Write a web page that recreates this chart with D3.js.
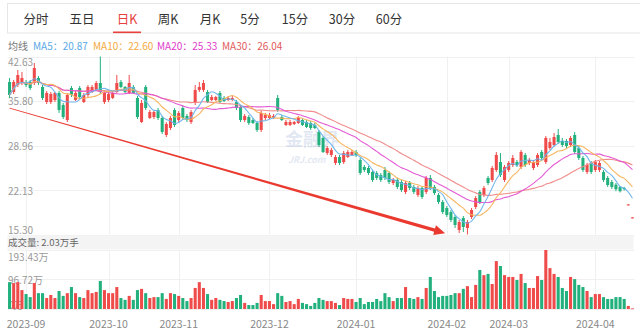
<!DOCTYPE html>
<html><head><meta charset="utf-8">
<script src="https://cdn.jsdelivr.net/npm/d3@7"></script>
<style>html,body{margin:0;padding:0;background:#fff;} svg{display:block;font-family:"Noto Sans CJK SC","Noto Sans",sans-serif;}</style>
</head><body><svg id="c" width="640" height="333"></svg>
<script>
// ---------- data ----------
const tabs = ["分时","五日","日K","周K","月K","5分","15分","30分","60分"];
const activeTab = "日K";
const maPeriods = [5,10,20,30];
const maLegendValues = ["20.87","22.60","25.33","26.04"];
const maLegendTitle = "均线";
const volumeLabel = "成交量: 2.03万手";
const priceTicks = [42.63,35.80,28.96,22.13,15.30];
const volTicks = [193.43,96.72,0];
const volTickLabels = ["193.43万","96.72万","0万"];
const monthDays = [
 ["2023-08",[28,29,30,31]],
 ["2023-09",[1,4,5,6,7,8,11,12,13,14,15,18,19,20,21,22,25,26,27,28]],
 ["2023-10",[9,10,11,12,13,16,17,18,19,20,23,24,25,26,27,30,31]],
 ["2023-11",[1,2,3,6,7,8,9,10,13,14,15,16,17,20,21,22,23,24,27,28,29,30]],
 ["2023-12",[1,4,5,6,7,8,11,12,13,14,15,18,19,20,21,22,25,26,27,28,29]],
 ["2024-01",[2,3,4,5,8,9,10,11,12,15,16,17,18,19,22,23,24,25,26,29,30,31]],
 ["2024-02",[1,2,5,6,7,8,19,20,21,22,23,26,27,28,29]],
 ["2024-03",[1,4,5,6,7,8,11,12,13,14,15,18,19,20,21,22,25,26,27,28,29]],
 ["2024-04",[1,2,3,8,9,10,11,12,15,16]]
];
const monthLabels = ["2023-09","2023-10","2023-11","2023-12","2024-01","2024-02","2024-03","2024-04"];
const open = [
 38.72,37.18,38.25,38.56,38.72,38.72,38.56,39.33,37.95,35.64,
 35.64,35.95,37.03,35.18,32.88,37.79,35.95,37.79,35.64,36.72,
 37.18,37.49,38.56,35.64,35.95,36.26,37.18,38.72,37.95,37.03,
 37.95,36.26,32.57,37.95,33.19,33.34,34.42,33.19,30.58,31.65,
 34.42,32.88,34.72,33.50,32.57,35.49,37.49,37.49,37.18,35.95,
 35.95,37.03,36.26,35.95,35.95,35.64,34.88,32.88,33.34,32.88,
 32.42,31.35,33.19,33.19,33.19,36.26,33.34,32.11,32.11,32.27,
 32.42,32.88,32.57,32.42,32.11,31.04,30.12,27.81,27.51,26.28,
 27.20,26.43,27.20,27.51,27.97,26.74,25.67,25.51,24.90,24.74,
 24.44,25.20,24.74,23.21,23.67,23.36,21.83,23.21,22.60,21.37,
 22.44,21.83,23.98,22.60,21.37,20.29,19.37,18.75,17.99,15.99,
 17.83,16.30,17.99,19.52,21.83,21.37,23.98,23.67,25.20,26.43,
 23.67,25.20,25.97,26.43,25.67,27.51,26.28,25.51,25.97,27.97,
 26.43,28.58,29.04,30.58,29.66,29.66,29.04,30.58,28.58,27.05,
 24.90,26.28,25.20,25.20,24.90,23.98,23.36,22.95,22.60,22.45,
 19.92,17.93];
const close = [
 36.72,38.72,39.79,39.33,38.25,37.79,40.86,38.56,36.26,37.03,
 36.87,37.03,34.42,33.34,36.72,36.72,37.03,36.41,36.72,37.95,
 37.95,38.56,37.18,37.03,36.87,37.03,38.56,37.95,37.18,38.56,
 37.03,33.34,35.49,34.72,34.11,34.11,33.19,31.04,32.27,33.19,
 32.11,33.96,33.19,32.88,34.11,37.49,37.95,38.56,35.64,36.41,
 36.41,35.64,35.80,36.26,36.26,34.72,32.88,33.50,32.42,32.42,
 31.35,33.96,33.65,33.65,33.50,34.42,32.88,32.57,32.57,32.57,
 33.19,32.11,31.81,31.65,31.65,29.04,27.97,28.58,28.27,27.20,
 26.28,27.81,27.97,27.97,27.51,24.74,25.20,24.74,23.67,23.98,
 23.67,23.98,23.36,23.67,22.60,22.13,23.21,22.44,21.83,22.44,
 21.06,23.98,22.44,21.67,20.29,18.75,18.29,17.53,16.76,17.22,
 16.45,17.22,19.06,20.90,20.29,22.44,23.21,25.51,27.51,24.44,
 25.67,26.28,27.05,25.97,27.97,25.97,26.74,26.43,27.51,27.05,
 30.12,29.50,30.27,29.50,29.04,28.89,30.12,27.97,27.05,25.20,
 25.97,24.90,26.43,26.28,23.67,22.90,22.60,22.25,21.95,22.25,
 19.92,17.93];
const high = [
 39.33,39.02,40.56,40.25,39.02,39.02,41.63,39.64,38.25,37.33,
 37.18,37.18,37.33,35.49,37.03,38.10,37.33,38.10,37.03,38.25,
 38.25,38.87,42.63,37.33,37.18,37.33,39.79,39.02,38.10,39.79,
 38.25,36.56,35.95,38.25,34.42,34.42,34.72,33.50,32.57,33.50,
 34.72,34.26,35.03,33.80,34.42,38.25,38.72,39.02,37.49,36.72,
 36.56,37.33,36.56,36.56,36.56,35.95,35.18,33.80,33.65,33.19,
 32.73,34.26,33.96,33.96,33.80,36.72,33.65,32.88,32.88,32.73,
 33.50,33.19,32.88,32.73,32.42,31.35,30.42,28.89,28.58,27.51,
 27.51,28.12,28.27,28.27,28.27,27.05,25.97,25.82,25.20,25.05,
 24.74,25.67,25.05,23.98,23.98,23.67,23.52,23.52,22.90,22.75,
 22.75,24.28,24.44,22.90,21.67,20.60,19.67,19.06,18.29,17.53,
 18.14,17.53,19.37,21.21,22.13,22.75,24.28,25.82,27.97,27.81,
 25.97,26.58,27.51,26.74,28.27,27.81,27.05,26.74,27.81,28.27,
 30.42,30.12,30.88,31.50,30.12,29.97,30.42,31.04,28.89,27.35,
 26.28,26.58,26.74,26.58,25.20,24.28,23.67,23.21,22.75,22.60,
 19.92,17.93];
const low = [
 36.26,36.87,37.95,38.25,37.95,37.49,38.25,38.25,35.95,35.34,
 35.34,35.64,33.96,33.03,32.57,36.41,35.80,36.10,35.49,36.41,
 37.03,37.33,36.87,35.34,35.64,36.10,37.03,37.79,37.03,36.87,
 36.87,33.03,32.42,34.42,33.03,33.03,32.88,30.73,30.27,31.35,
 31.81,32.57,32.88,32.57,32.27,35.18,37.18,37.18,35.49,35.80,
 35.80,35.49,35.64,35.80,35.80,34.42,32.57,32.57,32.11,32.27,
 31.04,31.04,32.88,33.03,33.03,34.11,32.73,31.96,31.96,32.11,
 32.27,31.96,31.65,31.35,31.50,28.73,27.81,27.51,27.20,25.97,
 25.97,26.12,27.05,27.35,27.20,24.44,24.90,24.44,23.36,23.67,
 23.36,23.67,23.06,22.90,22.29,21.83,21.52,22.13,21.52,21.06,
 20.75,21.52,22.13,21.37,19.98,18.45,17.99,17.22,16.30,15.53,
 15.69,15.30,17.68,19.21,19.98,21.06,22.90,23.36,24.90,24.13,
 23.36,24.90,25.67,25.67,25.36,25.67,25.97,25.20,25.67,26.74,
 26.12,28.27,28.73,29.20,28.73,28.58,28.73,27.66,26.74,24.90,
 24.59,24.59,24.90,24.90,23.36,22.60,22.29,21.95,21.75,22.05,
 19.92,17.93];
const volume = [
 88,85,88,62,49,39,85,52,52,36,
 46,36,59,43,52,72,52,39,36,62,
 52,56,92,62,52,52,72,36,30,43,
 30,62,66,52,36,39,39,52,33,52,
 49,43,36,26,36,69,88,69,49,30,
 36,30,26,23,26,36,46,20,13,13,
 20,46,26,26,16,52,43,23,26,16,
 33,20,16,10,20,36,30,26,26,20,
 13,36,33,33,23,36,16,23,23,33,
 26,52,39,26,36,36,72,36,33,39,
 33,69,105,59,39,43,43,46,52,52,
 66,75,39,79,128,111,115,82,157,141,
 111,105,105,95,115,85,69,69,108,95,
 193.43,134,115,105,69,59,105,98,79,72,
 59,39,49,49,39,33,33,39,39,33,
 10,2.03];
// annotation arrow in data space (candle index, price)
const arrowFrom = {idx:0, price:34.72};
const arrowTo = {idx:105.6, price:15.5};

// ---------- build ----------
const dates = [];
monthDays.forEach(([m,days]) => days.forEach(d => dates.push(m + "-" + String(d).padStart(2,"0"))));
const candles = dates.map((d,i)=>({date:d, o:open[i], c:close[i], h:high[i], l:low[i], v:volume[i], i}));

const RED = "#ef4b4b", GREEN = "#22b07d";
const maColors = ["#6cb4ec","#f7b25a","#e353d2","#f08686"];
const maTextColors = ["#5aa8e6","#f4a940","#e03ccc","#e25a5a"];

const svg = d3.select("#c");
const L = 7.5, R = 634.5;
const pTop = 56.5, pBot = 234.5, vTop = 250, vBot = 309;

const x = d3.scaleBand().domain(dates).range([L, R]).paddingInner(0.26).paddingOuter(0.13);
const bw = x.bandwidth();
const cx = d => x(d) + bw/2;
const cxIdx = f => x(dates[0]) + bw/2 + f * x.step();
const y = d3.scaleLinear().domain([15.30, 42.63]).range([pBot, pTop]);
const yv = d3.scaleLinear().domain([0, 193.43]).range([vBot, vTop]);

// Tabs
const tabCenters = [36, 82, 127, 168, 210, 250, 295, 342, 389];
svg.append("rect").attr("x",7.5).attr("y",3.5).attr("width",660).attr("height",29.5)
  .attr("fill","#fff").attr("stroke","#e6e6e6");
svg.selectAll("text.tab").data(tabs).join("text").attr("class","tab")
  .attr("x",(d,i)=>tabCenters[i]).attr("y",18.5).attr("text-anchor","middle")
  .attr("dominant-baseline","central").attr("font-size",12.5)
  .attr("fill",d=>d===activeTab?"#e8403c":"#333").text(d=>d);
const ai = tabs.indexOf(activeTab);
svg.append("rect").attr("x",tabCenters[ai]-14).attr("y",31.5).attr("width",28).attr("height",1.6).attr("fill","#e8403c");

// MA legend
const lg = svg.append("g").attr("font-size",10).attr("dominant-baseline","central");
lg.append("text").attr("x",8).attr("y",45).attr("fill","#777").text(maLegendTitle);
const legX = [33, 93, 157, 222];
maPeriods.forEach((p,k)=>{
  lg.append("text").attr("x",legX[k]).attr("y",45).attr("fill",maTextColors[k])
    .text("MA"+p+"："+maLegendValues[k]);
});

// grid
const grid = svg.append("g").attr("stroke","#f0f0f0").attr("stroke-width",1);
priceTicks.forEach(t=>grid.append("line").attr("x1",L).attr("x2",R).attr("y1",Math.round(y(t))+0.5).attr("y2",Math.round(y(t))+0.5));
volTicks.forEach(t=>grid.append("line").attr("x1",L).attr("x2",R).attr("y1",Math.round(yv(t))+0.5).attr("y2",Math.round(yv(t))+0.5));
const monthFirst = monthLabels.map(m => dates.find(d => d.startsWith(m)));
monthFirst.forEach(d=>{
  const xx = Math.round(cx(d))+0.5;
  grid.append("line").attr("x1",xx).attr("x2",xx).attr("y1",pTop).attr("y2",pBot);
  grid.append("line").attr("x1",xx).attr("x2",xx).attr("y1",vTop).attr("y2",vBot);
});

// price axis labels (under candles)
const al = svg.append("g").attr("font-size",10).attr("fill","#999").attr("dominant-baseline","central");
priceTicks.forEach((t,k)=>{
  let yy = y(t);
  if (k===0) yy += 5; else if (k===priceTicks.length-1) yy -= 5.5;
  al.append("text").attr("x",8).attr("y",yy).text(d3.format(".2f")(t));
});

// watermark
const wm = svg.append("g").attr("opacity",0.2).attr("fill","#6f8fc4");
wm.append("text").attr("x",285).attr("y",146).attr("font-size",18).attr("font-weight","bold").text("金融界");
wm.append("text").attr("x",288).attr("y",163).attr("font-size",9).attr("font-style","italic").attr("font-weight","bold").text("JRJ.com");

// volume band
svg.append("rect").attr("x",L).attr("y",235.5).attr("width",R-L-1).attr("height",14).attr("fill","#f4f4f4");
svg.append("text").attr("x",8).attr("y",242).attr("font-size",9.5).attr("fill","#666")
  .attr("dominant-baseline","central").text(volumeLabel);
volTicks.forEach((t,k)=>{
  let yy = yv(t);
  if (k===0) yy += 6.5; else if (k===volTicks.length-1) yy -= 5;
  al.append("text").attr("x",8).attr("y",yy).text(volTickLabels[k]);
});

// candles
const col = d => d.c >= d.o ? RED : GREEN;
const cg = svg.append("g");
cg.selectAll("line.wick").data(candles).join("line")
  .attr("x1",d=>cx(d.date)).attr("x2",d=>cx(d.date))
  .attr("y1",d=>y(d.h)).attr("y2",d=>Math.max(y(d.l), y(d.h)+1))
  .attr("stroke",col).attr("stroke-width",1);
cg.selectAll("rect.body").data(candles).join("rect")
  .attr("x",d=>x(d.date)).attr("width",bw)
  .attr("y",d=>y(Math.max(d.o,d.c)))
  .attr("height",d=>Math.max(1, Math.abs(y(d.o)-y(d.c))))
  .attr("fill",col);

// MA lines
const maData = maPeriods.map(n => close.map((c,i)=> d3.mean(close.slice(Math.max(0,i-n+1), i+1))));
const line = d3.line().x((v,i)=>cx(dates[i])).y(v=>y(v)).curve(d3.curveMonotoneX);
maData.slice().reverse().forEach((arr,kk)=>{
  const k = maData.length-1-kk;
  svg.append("path").attr("d",line(arr)).attr("fill","none").attr("stroke",maColors[k]).attr("stroke-width",1.1).attr("opacity",0.95);
});

// volume bars
svg.append("g").selectAll("rect").data(candles).join("rect")
  .attr("x",d=>x(d.date)).attr("width",bw)
  .attr("y",d=>yv(d.v)).attr("height",d=>Math.max(0.8, yv(0)-yv(d.v)))
  .attr("fill",col);

// x labels
svg.append("g").attr("font-size",10.5).attr("fill","#888").attr("text-anchor","middle")
  .selectAll("text").data(monthLabels).join("text")
  .attr("x",(m,i)=>cx(monthFirst[i])).attr("y",323).attr("dominant-baseline","central").text(m=>m);

// arrow annotation
(function(){
  const sx = cxIdx(arrowFrom.idx), sy = y(arrowFrom.price);
  const ex = cxIdx(arrowTo.idx), ey = y(arrowTo.price);
  const dx = ex-sx, dy = ey-sy, len = Math.hypot(dx,dy);
  const ux = dx/len, uy = dy/len, nx = -uy, ny = ux;
  const headL = 11, headW = 5;
  const hx = ex - ux*headL, hy = ey - uy*headL;
  const w0 = 0.4, w1 = 1.6;
  const pts = [
    [sx+nx*w0, sy+ny*w0],[hx+nx*w1, hy+ny*w1],[hx+nx*headW, hy+ny*headW],[ex,ey],
    [hx-nx*headW, hy-ny*headW],[hx-nx*w1, hy-ny*w1],[sx-nx*w0, sy-ny*w0]];
  svg.append("path").attr("d","M"+pts.map(p=>p.join(",")).join("L")+"Z").attr("fill","#ea3a30");
})();
</script></body></html>
